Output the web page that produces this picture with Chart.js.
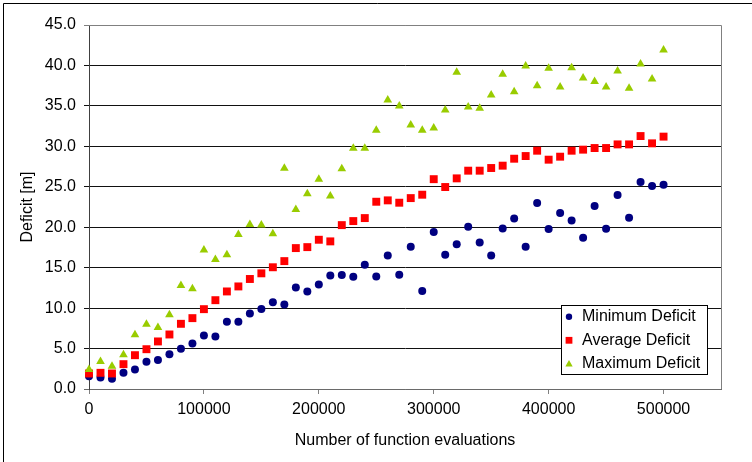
<!DOCTYPE html>
<html>
<head>
<meta charset="utf-8">
<script src="https://cdn.jsdelivr.net/npm/chart.js@4.4.0/dist/chart.umd.min.js"></script>
<style>
html,body{margin:0;padding:0;background:#fff;}
#wrap{position:relative;width:752px;height:462px;}
canvas{display:block;}
</style>
</head>
<body>
<div id="wrap"><canvas id="c" width="752" height="462"></canvas></div>
<script>
// ---- data ----
const evaluations = [0,10000,20000,30000,40000,50000,60000,70000,80000,90000,
  100000,110000,120000,130000,140000,150000,160000,170000,180000,190000,
  200000,210000,220000,230000,240000,250000,260000,270000,280000,290000,
  300000,310000,320000,330000,340000,350000,360000,370000,380000,390000,
  400000,410000,420000,430000,440000,450000,460000,470000,480000,490000,500000];
const minDeficit = [1.58,1.42,1.26,2.0,2.41,3.36,3.57,4.31,4.97,5.63,
  6.62,6.49,8.31,8.31,9.34,9.9,10.72,10.45,12.56,12.06,
  12.93,14.04,14.08,13.88,15.36,13.92,16.51,14.13,17.59,12.1,
  19.4,16.6,17.91,20.07,18.12,16.51,19.83,21.09,17.59,22.98,
  19.78,21.75,20.84,18.7,22.61,19.82,23.97,21.18,25.58,25.09,25.26];
const avgDeficit = [1.92,2.0,1.92,3.07,4.18,4.92,5.88,6.74,8.06,8.76,
  9.87,10.98,12.06,12.68,13.6,14.3,15.05,15.81,17.42,17.54,
  18.45,18.25,20.26,20.76,21.13,23.15,23.32,23.03,23.6,24.02,
  25.94,24.97,26.04,26.99,26.99,27.32,27.61,28.47,28.8,29.46,
  28.35,28.72,29.46,29.59,29.79,29.79,30.24,30.24,31.27,30.37,31.2];
const maxDeficit = [2.41,3.4,2.82,4.23,6.7,8.02,7.61,9.18,12.8,12.39,
  17.17,16.02,16.6,19.1,20.35,20.26,19.2,27.28,22.2,24.14,
  25.92,23.85,27.24,29.75,29.75,32.0,35.72,34.98,32.63,32.0,
  32.26,34.49,39.15,34.86,34.7,36.35,38.9,36.76,39.94,37.5,
  39.65,37.33,39.73,38.45,38.0,37.33,39.32,37.17,40.18,38.32,41.91];
const xTicks = [0,100000,200000,300000,400000,500000];
const yTicks = [0,5,10,15,20,25,30,35,40,45];
const seriesNames = ['Minimum Deficit','Average Deficit','Maximum Deficit'];
const seriesColors = ['#000080','#FF0000','#99CC00'];
const seriesStyles = ['circle','rect','triangle'];

const FONT = 'Liberation Sans, Arial, sans-serif';

function pts(ys){ return evaluations.map((x,i)=>({x:x,y:ys[i]})); }

const framePlugin = {
  id:'frame',
  beforeDatasetsDraw(chart){
    const {ctx, chartArea:a} = chart;
    ctx.save();
    ctx.strokeStyle = '#808080';
    ctx.lineWidth = 1;
    ctx.beginPath();
    const r = Math.round(a.right)+0.5, t = Math.round(a.top)+0.5;
    ctx.moveTo(a.left, t); ctx.lineTo(r, t); ctx.lineTo(r, a.bottom);
    ctx.stroke();
    ctx.restore();
  },
  afterDraw(chart){
    const ctx = chart.ctx;
    ctx.save();
    // outer border (left + top)
    ctx.strokeStyle = '#000';
    ctx.lineWidth = 1;
    ctx.beginPath();
    ctx.moveTo(3.5, 462); ctx.lineTo(3.5, 3.5); ctx.lineTo(752, 3.5);
    ctx.stroke();
    // legend
    const bx = 561.5, by = 305.5, bw = 146, bh = 69;
    ctx.fillStyle = '#fff';
    ctx.fillRect(bx, by, bw, bh);
    ctx.strokeStyle = '#000';
    ctx.strokeRect(bx, by, bw, bh);
    const rows = [316.7, 340.3, 363.5];
    const radii = [3.2, 4.8, 4.2];
    ctx.font = '16px ' + FONT;
    ctx.textBaseline = 'middle';
    ctx.textAlign = 'left';
    for (let k=0;k<3;k++){
      ctx.fillStyle = seriesColors[k];
      ctx.strokeStyle = seriesColors[k];
      Chart.helpers.drawPoint(ctx, {pointStyle:seriesStyles[k], radius:radii[k], borderWidth:0, rotation:0}, 569, rows[k] + (k===2?0.8:0));
      ctx.fillStyle = '#000';
      ctx.fillText(seriesNames[k], 582, rows[k]);
    }
    ctx.restore();
  }
};

new Chart(document.getElementById('c'), {
  type:'scatter',
  data:{
    datasets:[
      {label:seriesNames[0], data:pts(minDeficit), pointStyle:'circle', pointRadius:4, pointBorderWidth:0,
        backgroundColor:seriesColors[0], borderColor:seriesColors[0], clip:false, order:2},
      {label:seriesNames[1], data:pts(avgDeficit), pointStyle:'rect', pointRadius:5.6, pointBorderWidth:0,
        backgroundColor:seriesColors[1], borderColor:seriesColors[1], clip:false, order:1},
      {label:seriesNames[2], data:pts(maxDeficit), pointStyle:'triangle', pointRadius:5, pointBorderWidth:0,
        backgroundColor:seriesColors[2], borderColor:seriesColors[2], clip:false, order:0}
    ]
  },
  options:{
    responsive:false,
    animation:false,
    devicePixelRatio:1,
    layout:{padding:{top:25,right:31,left:0,bottom:0}},
    plugins:{legend:{display:false}, tooltip:{enabled:false}},
    scales:{
      x:{
        type:'linear', min:0, max:550000,
        afterFit(s){ s.height = 73; },
        afterBuildTicks(s){ s.ticks = xTicks.map(v=>({value:v})); },
        ticks:{autoSkip:false, maxRotation:0, color:'#000', padding:6,
          font:{family:FONT, size:16}, callback:v=>String(v)},
        grid:{drawOnChartArea:false, drawTicks:true, tickLength:5, color:'#808080', lineWidth:1},
        border:{display:true, color:'#6a6a6a', width:1},
        title:{display:true, text:'Number of function evaluations', color:'#000',
          font:{family:FONT, size:16}, padding:{top:0,bottom:12}}
      },
      y:{
        min:0, max:45,
        afterFit(s){ s.width = 89; },
        afterBuildTicks(s){ s.ticks = yTicks.map(v=>({value:v})); },
        ticks:{color:'#000', padding:8, font:{family:FONT, size:16}, callback:v=>Number(v).toFixed(1)},
        grid:{drawTicks:true, tickLength:5, lineWidth:1,
          color:c=> (c.tick && c.tick.value===45) ? '#808080' : (c.tick && c.tick.value===0 ? '#6a6a6a' : '#111')},
        border:{display:true, color:'#404040', width:1},
        title:{display:true, text:'Deficit [m]', color:'#000',
          font:{family:FONT, size:16}, padding:{top:18,bottom:0}}
      }
    }
  },
  plugins:[framePlugin]
});
</script>
</body>
</html>
